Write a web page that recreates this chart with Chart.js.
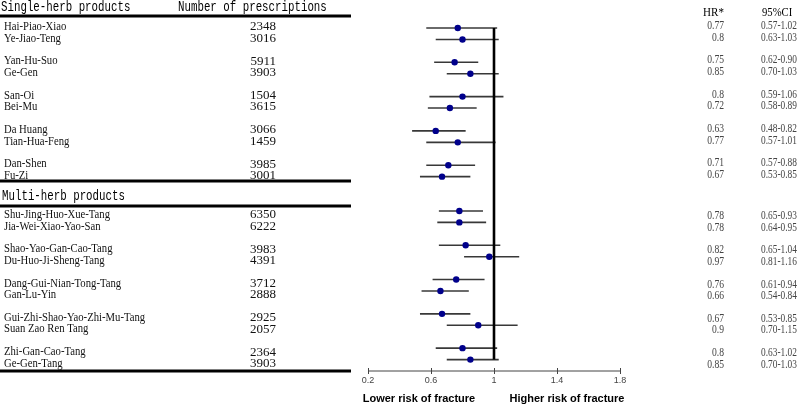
<!DOCTYPE html>
<html>
<head>
<meta charset="utf-8">
<script src="https://cdn.jsdelivr.net/npm/chart.js@4/dist/chart.umd.min.js"></script>
<style>
  body { margin: 0; background: #fff; }
  #wrap { width: 800px; height: 406px; }
</style>
</head>
<body>
<div id="wrap"><canvas id="forest" width="800" height="406"></canvas></div>
<script>
// single-herb products
const singleNames = ['Hai-Piao-Xiao', 'Ye-Jiao-Teng', 'Yan-Hu-Suo', 'Ge-Gen', 'San-Oi', 'Bei-Mu', 'Da Huang', 'Tian-Hua-Feng', 'Dan-Shen', 'Fu-Zi'];
const singleCounts = [2348, 3016, 5911, 3903, 1504, 3615, 3066, 1459, 3985, 3001];
const singleHR = [0.77, 0.8, 0.75, 0.85, 0.8, 0.72, 0.63, 0.77, 0.71, 0.67];
const singleLow = [0.57, 0.63, 0.62, 0.70, 0.59, 0.58, 0.48, 0.57, 0.57, 0.53];
const singleHigh = [1.02, 1.03, 0.90, 1.03, 1.06, 0.89, 0.82, 1.01, 0.88, 0.85];

// multi-herb products
const multiNames = ['Shu-Jing-Huo-Xue-Tang', 'Jia-Wei-Xiao-Yao-San', 'Shao-Yao-Gan-Cao-Tang', 'Du-Huo-Ji-Sheng-Tang', 'Dang-Gui-Nian-Tong-Tang', 'Gan-Lu-Yin', 'Gui-Zhi-Shao-Yao-Zhi-Mu-Tang', 'Suan Zao Ren Tang', 'Zhi-Gan-Cao-Tang', 'Ge-Gen-Tang'];
const multiCounts = [6350, 6222, 3983, 4391, 3712, 2888, 2925, 2057, 2364, 3903];
const multiHR = [0.78, 0.78, 0.82, 0.97, 0.76, 0.66, 0.67, 0.9, 0.8, 0.85];
const multiLow = [0.65, 0.64, 0.65, 0.81, 0.61, 0.54, 0.53, 0.70, 0.63, 0.70];
const multiHigh = [0.93, 0.95, 1.04, 1.16, 0.94, 0.84, 0.85, 1.15, 1.02, 1.03];

// x axis ticks
const xTicks = [0.2, 0.6, 1, 1.4, 1.8];

// row slot: pairs of rows with one empty slot between pairs
function slot(i, start) {
    return start + Math.floor(i / 2) * 3 + (i % 2);
}

const rows = [];
singleNames.forEach((n, i) => rows.push({ name: n, n: singleCounts[i], hr: singleHR[i], lo: singleLow[i], hi: singleHigh[i], k: slot(i, 0), sec: 0 }));
multiNames.forEach((n, i) => rows.push({ name: n, n: multiCounts[i], hr: multiHR[i], lo: multiLow[i], hi: multiHigh[i], k: slot(i, 16), sec: 1 }));

const datasets = [];
rows.forEach(r => {
    datasets.push({
        type: 'line',
        data: [{ x: r.lo, y: r.k }, { x: r.hi, y: r.k }],
        borderColor: '#383838',
        borderWidth: 1.6,
        pointRadius: 0,
        order: 3
    });
});
datasets.push({
    type: 'line',
    data: [{ x: 1, y: rows[0].k }, { x: 1, y: rows[rows.length - 1].k }],
    borderColor: '#000',
    borderWidth: 2.6,
    pointRadius: 0,
    order: 2
});
datasets.push({
    type: 'scatter',
    data: rows.map(r => ({ x: r.hr, y: r.k })),
    backgroundColor: '#00008b',
    borderColor: '#00008b',
    borderWidth: 0,
    pointRadius: 3.2,
    order: 1
});

// draw text squeezed horizontally (the original uses a narrow font)
function txt(ctx, s, x, y, font, align, sx, color) {
    ctx.save();
    ctx.font = font;
    ctx.fillStyle = color || '#000';
    ctx.textAlign = align;
    ctx.textBaseline = 'middle';
    ctx.translate(x, y);
    ctx.scale(sx, 1);
    ctx.fillText(s, 0, 0);
    ctx.restore();
}

function hline(ctx, y, w) {
    ctx.save();
    ctx.strokeStyle = '#000';
    ctx.lineWidth = w;
    ctx.beginPath();
    ctx.moveTo(0, y);
    ctx.lineTo(351, y);
    ctx.stroke();
    ctx.restore();
}

const tablePlugin = {
    id: 'tablePlugin',
    afterDraw(chart) {
        const ctx = chart.ctx;
        const xs = chart.scales.x;
        const ys = chart.scales.y;
        const mono = '14px "Liberation Mono", monospace';
        const serif = '12px "Liberation Serif", serif';
        const num = '13px "Liberation Serif", serif';

        // headers
        txt(ctx, 'Single-herb products', 1, 7, mono, 'left', 0.77);
        txt(ctx, 'Number of prescriptions', 178, 7, mono, 'left', 0.77);
        txt(ctx, 'Multi-herb products', 2, 196, mono, 'left', 0.77);
        txt(ctx, 'HR*', 724, 13, '13px "Liberation Serif", serif', 'right', 0.85);
        txt(ctx, '95%CI', 762, 13, '13px "Liberation Serif", serif', 'left', 0.82);

        hline(ctx, 16, 3);
        hline(ctx, 181, 3);
        hline(ctx, 206, 3);
        hline(ctx, 371, 3);

        rows.forEach(r => {
            const y = ys.getPixelForValue(r.k);
            const yl = y + (r.sec ? 4 : -1);
            const yr = y + (r.sec ? 5 : -2);
            txt(ctx, r.name, 4, yl, serif, 'left', 0.89, '#111');
            txt(ctx, String(r.n), 276, yl, num, 'right', 1, '#111');
            txt(ctx, String(r.hr), 724, yr, '12px "Liberation Serif", serif', 'right', 0.8, '#444');
            txt(ctx, r.lo.toFixed(2) + '-' + r.hi.toFixed(2), 761, yr, '12px "Liberation Serif", serif', 'left', 0.78, '#444');
        });

        // x axis
        const ay = 371;
        ctx.save();
        ctx.strokeStyle = '#444';
        ctx.lineWidth = 1;
        ctx.beginPath();
        ctx.moveTo(xs.getPixelForValue(xTicks[0]), ay);
        ctx.lineTo(xs.getPixelForValue(xTicks[xTicks.length - 1]), ay);
        xTicks.forEach(t => {
            const px = Math.round(xs.getPixelForValue(t)) + 0.5;
            ctx.moveTo(px, ay - 3);
            ctx.lineTo(px, ay + 3);
        });
        ctx.stroke();
        ctx.restore();
        xTicks.forEach(t => {
            txt(ctx, String(t), xs.getPixelForValue(t), 381, '9px "Liberation Sans", sans-serif', 'center', 1, '#444');
        });

        txt(ctx, 'Lower risk of fracture', 419, 399, 'bold 11px "Liberation Sans", sans-serif', 'center', 1, '#000');
        txt(ctx, 'Higher risk of fracture', 567, 399, 'bold 11px "Liberation Sans", sans-serif', 'center', 1, '#000');
    }
};

const ctx = document.getElementById('forest').getContext('2d');
new Chart(ctx, {
    type: 'scatter',
    data: { datasets: datasets },
    options: {
        responsive: false,
        animation: false,
        layout: { padding: { left: 368, right: 180, top: 22.28, bottom: 36.1 } },
        scales: {
            x: { type: 'linear', min: 0.2, max: 1.8, display: false },
            y: { type: 'linear', min: -0.5, max: 29.9, reverse: true, display: false }
        },
        plugins: {
            legend: { display: false },
            tooltip: { enabled: false }
        }
    },
    plugins: [tablePlugin]
});
</script>
</body>
</html>
